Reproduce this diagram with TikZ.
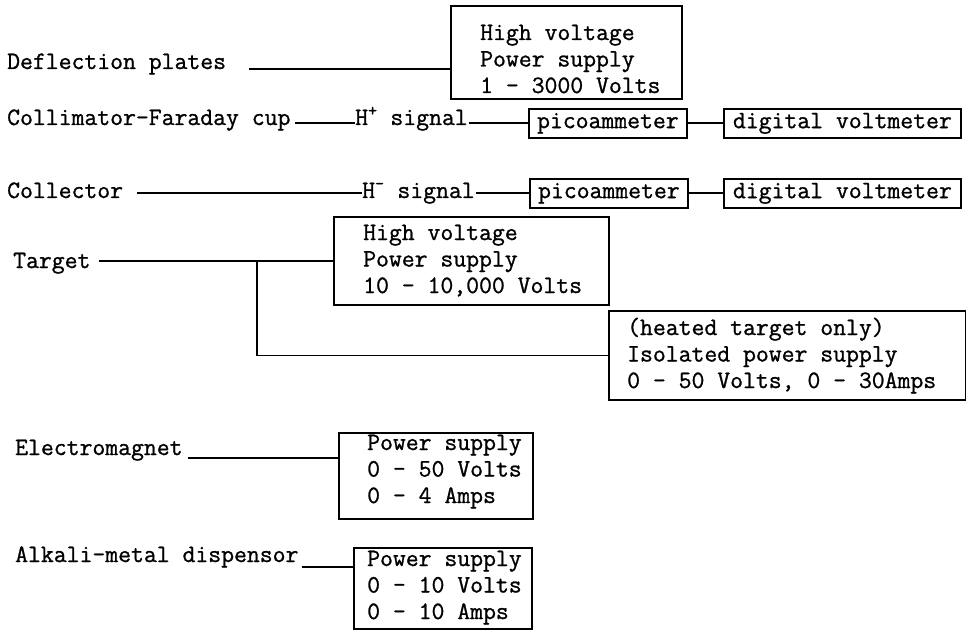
\documentclass[tikz,border=0pt]{standalone}
\usepackage{fontspec}
\setmonofont{Latin Modern Mono}[FakeBold=1]
\tikzset{
  lbl/.style={anchor=base west, inner sep=0pt, align=left},
  unit/.style={draw, line width=1.8pt, inner sep=0pt, anchor=north west},
  wire/.style={line width=1.8pt},
}
\begin{document}
\begin{tikzpicture}[x=1pt, y=-1pt, font=\ttfamily\fontsize{25}{26.5}\selectfont]
    \useasboundingbox (0,0) rectangle (966,639);

    % 左側の名前
    \node[lbl] (defl) at (7,69) {Deflection plates};
    \node[lbl] (coll) at (7,125) {Collimator-Faraday cup};
    \node[lbl] (hplus) at (355,125) {H\textsuperscript{+} signal};
    \node[lbl] (collr) at (7,198) {Collector};
    \node[lbl] (hminus) at (362,198) {H\textsuperscript{-} signal};
    \node[lbl] (tgt) at (13,268) {Target};
    \node[lbl] (em) at (15,455) {Electromagnet};
    \node[lbl] (alk) at (15,562) {Alkali-metal dispensor};

    % 電源と計器の箱
    \node[unit, minimum width=231pt, minimum height=93pt] (hvdefl) at (450,5) {};
    \node[unit, minimum width=158pt, minimum height=29pt] (pico1) at (528,108) {picoammeter};
    \node[unit, minimum width=237pt, minimum height=29pt] (dvm1) at (723,108) {digital voltmeter};
    \node[unit, minimum width=158pt, minimum height=29pt] (pico2) at (529,178) {picoammeter};
    \node[unit, minimum width=237pt, minimum height=29pt] (dvm2) at (723,178) {digital voltmeter};
    \node[unit, minimum width=275pt, minimum height=88pt] (hvtgt) at (333,216) {};
    \node[unit, minimum width=357pt, minimum height=89pt] (iso) at (608,310) {};
    \node[unit, minimum width=194pt, minimum height=86pt] (emps) at (338,432) {};
    \node[unit, minimum width=178pt, minimum height=81pt] (alkps) at (353,547) {};

    % 箱の中の文字 (最後の行のベースライン)
    \node[lbl] (hvdefltxt) at (480,93) {High voltage\\Power supply\\1 - 3000 Volts};
    \node[lbl] (hvtgttxt) at (363,293) {High voltage\\Power supply\\10 - 10,000 Volts};
    \node[lbl] (isotxt) at (627,388) {(heated target only)\\Isolated power supply\\0 - 50 Volts, 0 - 30Amps};
    \node[lbl] (empstxt) at (367,503) {Power supply\\0 - 50 Volts\\0 - 4 Amps};
    \node[lbl] (alkpstxt) at (367,619) {Power supply\\0 - 10 Volts\\0 - 10 Amps};

    % 接続線
    \draw[wire] ([xshift=23pt]defl.base east) -- (defl.base east -| hvdefl.west);
    \draw[wire] ([xshift=4pt]coll.base east |- pico1.west) -- (hplus.base west |- pico1.west);
    \draw[wire] ([xshift=1pt]hplus.base east |- pico1.west) -- (pico1.west);
    \draw[wire] (pico1) -- (dvm1);
    \draw[wire] ([xshift=14pt]collr.base east |- pico2.west) -- (hminus.base west |- pico2.west);
    \draw[wire] ([xshift=1pt]hminus.base east |- pico2.west) -- (pico2.west);
    \draw[wire] (pico2) -- (dvm2);
    \draw[wire] ([xshift=8pt]tgt.base east |- hvtgt.west) -- (hvtgt.west);
    \path (hvtgt.west) ++(-76,0) coordinate (split);
    \draw[wire] (split) |- (iso.west);
    \draw[wire] ([xshift=5pt,yshift=-3pt]em.base east) -- ([yshift=-3pt]em.base east -| emps.west);
    \draw[wire] ([xshift=3pt,yshift=-5pt]alk.base east) -- ([yshift=-5pt]alk.base east -| alkps.west);
\end{tikzpicture}
\end{document}
